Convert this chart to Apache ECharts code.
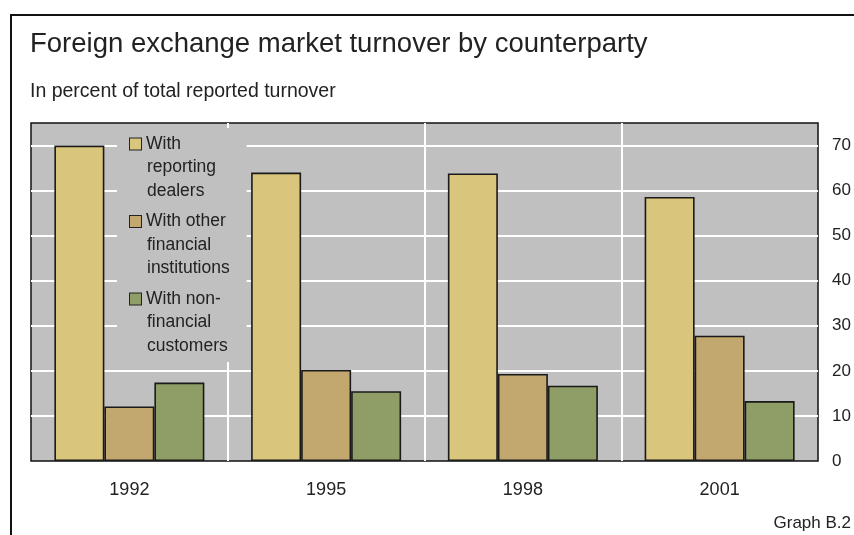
<!DOCTYPE html>
<html>
<head>
<meta charset="utf-8">
<script src="https://cdn.jsdelivr.net/npm/echarts@6/dist/echarts.min.js"></script>
<style>
html,body{margin:0;padding:0;background:#fff;}
#chart{width:854px;height:535px;}
</style>
</head>
<body>
<div id="chart"></div>
<script>
var categories = ['1992', '1995', '1998', '2001'];
var seriesNames = ['With reporting dealers', 'With other financial institutions', 'With non-financial customers'];
var legendLines = [['With', 'reporting', 'dealers'], ['With other', 'financial', 'institutions'], ['With non-', 'financial', 'customers']];
var reportingDealers = [70.0, 64.0, 63.8, 58.6];
var otherFinancial = [12.1, 20.2, 19.3, 27.8];
var nonFinancial = [17.4, 15.5, 16.7, 13.3];
var yMax = 75;
var yInterval = 10;

var colors = ['#D9C57C', '#C2A86F', '#8F9E67'];
var FONT = 'Liberation Sans, Arial, sans-serif';

var chart = echarts.init(document.getElementById('chart'), null, {renderer: 'canvas'});

var rich = {
  t: {fontSize: 17.5, fontFamily: FONT, color: '#222', lineHeight: 23.5, padding: [0, 0, 0, 5]},
  i: {fontSize: 17.5, fontFamily: FONT, color: '#222', lineHeight: 23.5, padding: [0, 0, 0, 17]}
};
colors.forEach(function (c, k) {
  rich['b' + k] = {width: 11, height: 11, backgroundColor: c, borderColor: '#222', borderWidth: 1, lineHeight: 23.5};
});

function legendText(name) {
  var k = seriesNames.indexOf(name);
  var lines = legendLines[k];
  var s = '{b' + k + '|}{t|' + lines[0] + '}';
  for (var j = 1; j < lines.length; j++) s += '\n{i|' + lines[j] + '}';
  return s;
}

function barSeries(name, data, k) {
  return {
    name: name,
    type: 'bar',
    data: data,
    barWidth: 50,
    barGap: '0%',
    itemStyle: {color: colors[k], borderColor: '#1a1a1a', borderWidth: 1.6},
    emphasis: {disabled: true}
  };
}

var option = {
  animation: false,
  backgroundColor: '#fff',
  title: [
    {text: 'Foreign exchange market turnover by counterparty', left: 30, top: 30, padding: 0,
      textStyle: {fontSize: 27.5, fontWeight: 'normal', fontFamily: FONT, color: '#222'}},
    {text: 'In percent of total reported turnover', left: 30, top: 82, padding: 0,
      textStyle: {fontSize: 19.5, fontWeight: 'normal', fontFamily: FONT, color: '#222'}},
    {text: 'Graph B.2', right: 3, top: 515, padding: 0,
      textStyle: {fontSize: 17, fontWeight: 'normal', fontFamily: FONT, color: '#222'}}
  ],
  legend: {
    orient: 'vertical',
    left: 117,
    top: 128,
    padding: [7, 17, 7, 8],
    itemGap: 12.5,
    icon: 'none',
    itemWidth: 0,
    itemHeight: 12,
    backgroundColor: '#C0C0C0',
    selectedMode: false,
    data: seriesNames,
    formatter: legendText,
    textStyle: {rich: rich, fontSize: 17.5, fontFamily: FONT, color: '#222'}
  },
  grid: {
    left: 31, right: 36, top: 123, bottom: 74,
    show: true, backgroundColor: '#C0C0C0', borderColor: '#111', borderWidth: 1.5,
    containLabel: false
  },
  xAxis: {
    type: 'category',
    data: categories,
    axisLine: {show: false},
    axisTick: {show: false},
    splitLine: {show: true, showMinLine: false, showMaxLine: false, lineStyle: {color: '#fff', width: 2}},
    axisLabel: {margin: 20, fontSize: 18, fontFamily: FONT, color: '#222'}
  },
  yAxis: {
    type: 'value',
    position: 'right',
    min: 0,
    max: yMax,
    interval: yInterval,
    axisLine: {show: false},
    axisTick: {show: false},
    splitLine: {show: true, showMinLine: false, showMaxLine: false, lineStyle: {color: '#fff', width: 2}},
    axisLabel: {margin: 14, fontSize: 17, fontFamily: FONT, color: '#222', showMaxLabel: false}
  },
  graphic: [
    {type: 'line', shape: {x1: 10, y1: 15, x2: 854, y2: 15}, style: {stroke: '#111', lineWidth: 2}, z: 100},
    {type: 'line', shape: {x1: 11, y1: 15, x2: 11, y2: 535}, style: {stroke: '#111', lineWidth: 2}, z: 100}
  ],
  series: [
    barSeries(seriesNames[0], reportingDealers, 0),
    barSeries(seriesNames[1], otherFinancial, 1),
    barSeries(seriesNames[2], nonFinancial, 2)
  ]
};
chart.setOption(option);
</script>
</body>
</html>
